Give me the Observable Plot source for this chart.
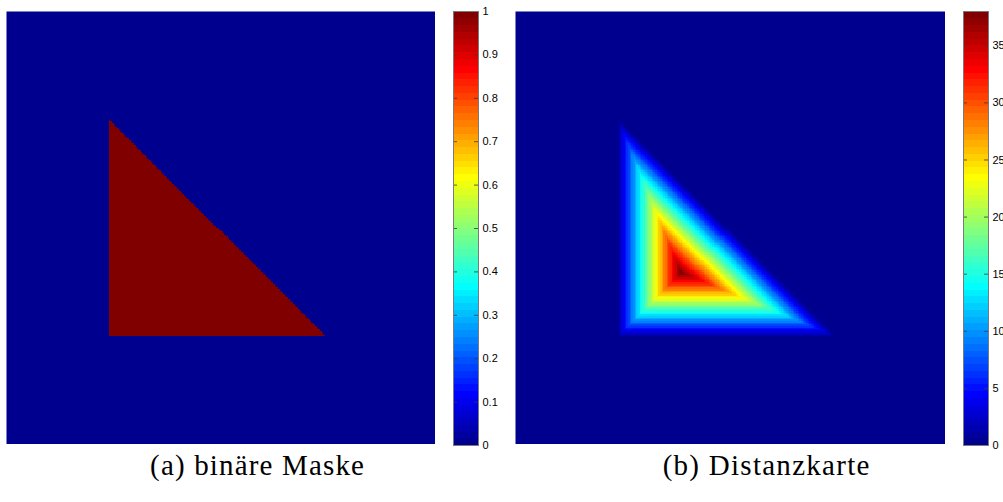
<!DOCTYPE html>
<html><head><meta charset="utf-8">
<script src="https://cdn.jsdelivr.net/npm/d3@7"></script>
<script src="https://cdn.jsdelivr.net/npm/@observablehq/plot@0.6"></script>
<style>
html,body{margin:0;padding:0;background:#fff;}
body{width:1003px;height:502px;overflow:hidden;position:relative;}
.panel{position:absolute;overflow:visible;}
.panel svg{max-width:none !important;display:block;}
.cap{position:absolute;font-family:"Liberation Serif","Tinos","Times New Roman","DejaVu Serif",serif;font-size:29px;white-space:nowrap;line-height:1;color:#000;}
</style></head><body>
<script>
// ---- data ----
const gridSize = 256;                       // image is gridSize x gridSize pixels
const triangleCols = [61, 61, 191];         // mask triangle vertices (columns)
const triangleRows = [64, 192, 192];        // mask triangle vertices (rows)
const maskTicks = [0, 0.1, 0.2, 0.3, 0.4, 0.5, 0.6, 0.7, 0.8, 0.9, 1];
const maskTickLabels = ["0", "0.1", "0.2", "0.3", "0.4", "0.5", "0.6", "0.7", "0.8", "0.9", "1"];
const distTicks = [0, 5, 10, 15, 20, 25, 30, 35];
const distTickLabels = ["0", "5", "10", "15", "20", "25", "30", "35"];
const jetIndex = [1, 8, 24, 40, 56, 64];    // MATLAB jet(64) anchor rows
const jetColors = ["#00008f", "#0000ff", "#00ffff", "#ffff00", "#ff0000", "#800000"];
const nColors = 64;
const captions = ["(a) binäre Maske", "(b) Distanzkarte"];

// ---- binary mask from the triangle ----
const [c0, , c1] = triangleCols;
const [r0, r1] = [triangleRows[0], triangleRows[1]];
const N = gridSize;
const mask = new Uint8Array(N * N);
for (let r = 0; r < N; r++) for (let c = 0; c < N; c++) {
  if (c >= c0 && c < c1 && r >= r0 && r < r1 && (c - c0) / (c1 - c0) <= (r - r0) / (r1 - r0)) mask[r * N + c] = 1;
}
// ---- Euclidean distance of each mask pixel to nearest background pixel (bwdist(~mask)) ----
const border = [];
for (let r = 0; r < N; r++) for (let c = 0; c < N; c++) {
  if (mask[r * N + c]) continue;
  let adj = false;
  for (let dr = -1; dr <= 1 && !adj; dr++) for (let dc = -1; dc <= 1; dc++) {
    const rr = r + dr, cc = c + dc;
    if (rr >= 0 && rr < N && cc >= 0 && cc < N && mask[rr * N + cc]) { adj = true; break; }
  }
  if (adj) border.push([r, c]);
}
const dist = new Float64Array(N * N);
let dmax = 0;
for (let r = 0; r < N; r++) for (let c = 0; c < N; c++) {
  if (!mask[r * N + c]) continue;
  let best = Infinity;
  for (const [br, bc] of border) { const d = (br - r) ** 2 + (bc - c) ** 2; if (d < best) best = d; }
  const d = Math.sqrt(best); dist[r * N + c] = d; if (d > dmax) dmax = d;
}

const idx = (v, vmax) => Math.min(nColors, Math.floor(v / vmax * nColors) + 1);
const colorOpts = {type: "linear", domain: jetIndex, range: jetColors, interpolate: "rgb"};

function imagePlot(values, vmax, w, h) {
  return Plot.plot({
    width: w, height: h, margin: 0,
    x: {domain: [0, N], axis: null},
    y: {domain: [0, N], reverse: true, axis: null},
    color: colorOpts,
    marks: [
      Plot.raster({width: N, height: N, x1: 0, x2: N, y1: 0, y2: N, imageRendering: "pixelated",
        fill: (x, y) => idx(values[Math.min(N - 1, Math.floor(y)) * N + Math.min(N - 1, Math.floor(x))], vmax)})
    ]
  });
}

function colorbar(vmax, ticks, labels) {
  const fmt = new Map(ticks.map((t, i) => [t, labels[i]]));
  return Plot.plot({
    width: 25 + 34, height: 434 + 12,
    marginLeft: 0, marginRight: 34, marginTop: 6, marginBottom: 6,
    x: {domain: [0, 1], axis: null},
    y: {domain: [0, vmax], axis: null},
    color: colorOpts,
    style: {overflow: "visible", fontFamily: "Liberation Sans, Arial, sans-serif", fontSize: "11px", color: "#000", background: "transparent"},
    marks: [
      Plot.raster({width: 1, height: nColors, x1: 0, x2: 1, y1: 0, y2: vmax, imageRendering: "pixelated",
        fill: (x, y) => idx(y, vmax)}),
      Plot.ruleY(ticks, {x1: 0, x2: 0.16, stroke: "#3a3a3a", strokeOpacity: 0.8}),
      Plot.ruleY(ticks, {x1: 0.84, x2: 1, stroke: "#3a3a3a", strokeOpacity: 0.8}),
      Plot.frame({stroke: "#7a7a7a"}),
      Plot.axisY(ticks, {anchor: "right", tickSize: 0, tickPadding: 4, tickFormat: d => fmt.get(d), fontSize: 11})
    ]
  });
}

function place(el, left, top, w) {
  const d = document.createElement("div");
  d.className = "panel"; d.style.left = left + "px"; d.style.top = top + "px"; d.style.width = w + "px";
  d.appendChild(el); document.body.appendChild(d);
}

place(imagePlot(mask, 1, 429, 433), 6, 11, 429);
place(colorbar(1, maskTicks, maskTickLabels), 453, 5, 59);
place(imagePlot(dist, dmax, 430, 433), 515, 11, 430);
place(colorbar(dmax, distTicks, distTickLabels), 963, 5, 59);

const capX = [257, 766];
const capW = [215, 208];
captions.forEach((t, i) => {
  const d = document.createElement("div");
  d.className = "cap"; d.textContent = t;
  d.style.top = "451px";
  document.body.appendChild(d);
  const w0 = d.getBoundingClientRect().width;
  const ls = (capW[i] - w0) / t.length;
  d.style.letterSpacing = ls + "px";
  const w1 = d.getBoundingClientRect().width;
  d.style.left = (capX[i] - w1 / 2 + ls / 2) + "px";
});
</script>
</body></html>
